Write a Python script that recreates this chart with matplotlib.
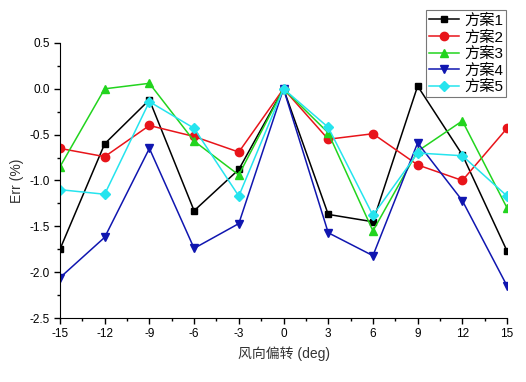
import numpy as np
import matplotlib.pyplot as plt
from matplotlib.ticker import MultipleLocator

plt.rcParams['font.family'] = ['Liberation Sans', 'Noto Sans CJK SC', 'DejaVu Sans']
plt.rcParams['axes.unicode_minus'] = False

# wind deviation (deg)
x = [-15, -12, -9, -6, -3, 0, 3, 6, 9, 12, 15]

s1 = [-1.75, -0.60, -0.12, -1.33, -0.88, 0.0, -1.37, -1.45, 0.03, -0.72, -1.77]
s2 = [-0.65, -0.74, -0.40, -0.52, -0.69, 0.0, -0.55, -0.49, -0.83, -1.00, -0.43]
s3 = [-0.85, 0.00, 0.06, -0.57, -0.94, 0.0, -0.48, -1.55, -0.68, -0.35, -1.30]
s4 = [-2.06, -1.62, -0.65, -1.74, -1.47, 0.0, -1.57, -1.82, -0.59, -1.22, -2.15]
s5 = [-1.10, -1.15, -0.14, -0.43, -1.17, 0.0, -0.42, -1.38, -0.70, -0.73, -1.17]

labels = ['方案1', '方案2', '方案3', '方案4', '方案5']
colors = ['black', '#e8141a', '#22d41e', '#1016b0', '#25e4ee']
markers = ['s', 'o', '^', 'v', 'D']
sizes = [5, 6, 6, 6, 5]

fig = plt.figure(figsize=(5.26, 3.82), dpi=100)
ax = fig.add_axes([0.114, 0.1675, 0.85, 0.72])

for y, lab, c, m, ms in zip([s1, s2, s3, s4, s5], labels, colors, markers, sizes):
    ax.plot(x, y, color=c, marker=m, markersize=ms, linewidth=1.1, label=lab)

ax.set_xlim(-15, 15)
ax.set_ylim(-2.5, 0.5)
ax.set_xticks(x)
ax.set_yticks(np.arange(-2.5, 0.51, 0.5))
ax.xaxis.set_minor_locator(MultipleLocator(1.5))
ax.yaxis.set_minor_locator(MultipleLocator(0.25))
ax.tick_params(axis='both', which='major', direction='out', length=4, width=1, labelsize=8.5)
ax.tick_params(axis='both', which='minor', direction='out', length=2.5, width=1)
ax.spines['top'].set_visible(False)
ax.spines['right'].set_visible(False)

ax.set_xlabel('风向偏转 (deg)', fontsize=10, color='#333333', labelpad=4)
ax.set_ylabel('Err (%)', fontsize=10, color='#333333', labelpad=4)

leg = fig.legend(loc='upper right', bbox_to_anchor=(0.962, 0.973), fontsize=11,
                 frameon=True, fancybox=False, edgecolor='#555555',
                 handlelength=2.0, borderpad=0.2, labelspacing=0.15,
                 handletextpad=0.3, borderaxespad=0)
leg.get_frame().set_linewidth(0.8)

fig.savefig('out.png', dpi=100)
